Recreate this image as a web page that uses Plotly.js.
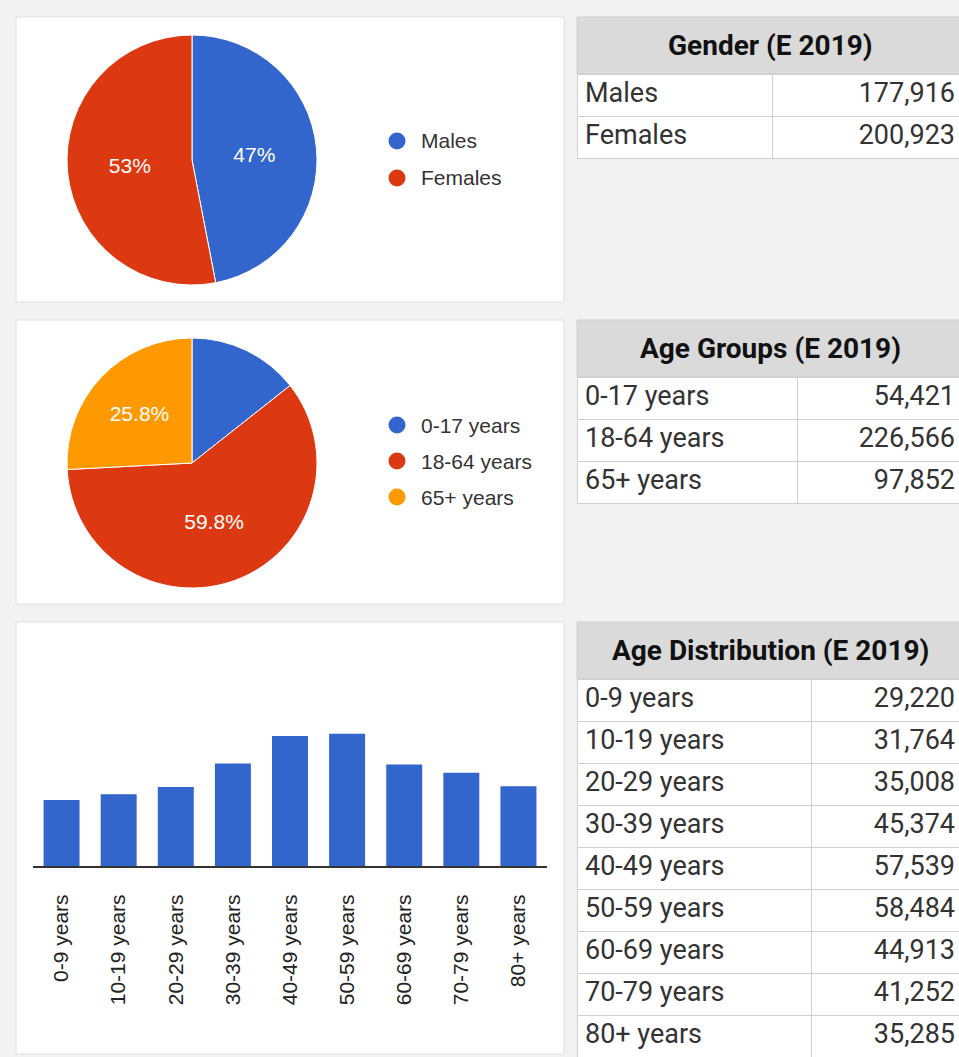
<!DOCTYPE html>
<html>
<head>
<meta charset="utf-8">
<script src="https://cdn.plot.ly/plotly-3.0.1.min.js"></script>
<style>
html, body { margin: 0; padding: 0; overflow: hidden; background: #f2f2f2; }
#chart { width: 966px; height: 1062px; }
</style>
</head>
<body>
<div id="chart"></div>
<script>
// ---- data ----
const genderLabels = ['Males', 'Females'];
const genderValues = [177916, 200923];
const ageGroupLabels = ['0-17 years', '18-64 years', '65+ years'];
const ageGroupValues = [54421, 226566, 97852];
const ageDistLabels = ['0-9 years', '10-19 years', '20-29 years', '30-39 years', '40-49 years',
                       '50-59 years', '60-69 years', '70-79 years', '80+ years'];
const ageDistValues = [29220, 31764, 35008, 45374, 57539, 58484, 44913, 41252, 35285];
const tableTitles = ['Gender (E 2019)', 'Age Groups (E 2019)', 'Age Distribution (E 2019)'];
const sliceColors = ['#3366cc', '#dc3912', '#ff9900'];

// ---- geometry helpers (pixels -> paper) ----
const W = 966, H = 1062;
const px = x => x / W;
const py = y => 1 - y / H;
const fmt = v => v.toLocaleString('en-US');

const chartFont = 'Arial, "Liberation Sans", sans-serif';
const tableFont = 'Roboto, "Noto Sans", sans-serif';

const traces = [];
const shapes = [];
const annotations = [];

// white panels
[[16, 17, 564, 302], [16, 320, 564, 604], [16, 622, 564, 1054]].forEach(b => {
  shapes.push({type: 'rect', xref: 'paper', yref: 'paper', layer: 'below',
    x0: px(b[0]), x1: px(b[2]), y0: py(b[3]), y1: py(b[1]),
    fillcolor: '#ffffff', line: {color: '#e0e0e0', width: 1}});
});

// pies
function addPie(labels, values, box, texttemplate) {
  traces.push({
    type: 'pie', labels: labels, values: values, sort: false, direction: 'clockwise',
    rotation: 0, showlegend: false,
    marker: {colors: sliceColors.slice(0, labels.length), line: {color: '#ffffff', width: 1}},
    texttemplate: texttemplate, textposition: 'inside', insidetextorientation: 'horizontal',
    textfont: {family: chartFont, size: 21, color: '#ffffff'},
    hoverinfo: 'label+value+percent',
    domain: {x: [px(box[0]), px(box[2])], y: [py(box[3]), py(box[1])]}
  });
}
function addLegend(labels, x, yStart, step) {
  labels.forEach((lab, i) => {
    const cy = yStart + i * step, cx = x, r = 8.5;
    shapes.push({type: 'circle', xref: 'paper', yref: 'paper',
      x0: px(cx - r), x1: px(cx + r), y0: py(cy + r), y1: py(cy - r),
      fillcolor: sliceColors[i], line: {width: 0}});
    annotations.push({xref: 'paper', yref: 'paper', x: px(cx + 22), y: py(cy),
      xanchor: 'left', yanchor: 'middle', showarrow: false, text: lab,
      font: {family: chartFont, size: 21, color: '#333333'}});
  });
}

addPie(genderLabels, genderValues, [67, 35, 317, 285], '%{percent:.0%}');
addLegend(genderLabels, 397, 141, 37);

const totalAge = ageGroupValues.reduce((a, b) => a + b, 0);
addPie(ageGroupLabels, ageGroupValues, [67, 338, 317, 588],
  ageGroupValues.map(v => (v / totalAge < 0.2 ? '' : '%{percent:.1%}')));
addLegend(ageGroupLabels, 397, 425, 36);

// bar chart
traces.push({
  type: 'bar', x: ageDistLabels, y: ageDistValues, xaxis: 'x', yaxis: 'y',
  marker: {color: '#3366cc'}, showlegend: false, hoverinfo: 'x+y'
});

// tables: grey title band + two-column data table
const EMPTY_HEAD = 16;  // height plotly keeps for a table with no header values
function addTable(title, labels, values, left, top, right, col1Right) {
  const headH = 57, rowH = 42;
  shapes.push({type: 'rect', xref: 'paper', yref: 'paper', layer: 'below',
    x0: px(left), x1: px(right), y0: py(top + headH), y1: py(top),
    fillcolor: '#dadada', line: {color: '#cfcfcf', width: 1}});
  annotations.push({xref: 'paper', yref: 'paper', x: px((left + right) / 2), y: py(top + headH / 2),
    xanchor: 'center', yanchor: 'middle', showarrow: false, text: '<b>' + title + '</b>',
    font: {family: tableFont, size: 28, color: '#111111'}});
  const t2 = top + headH - EMPTY_HEAD;
  traces.push({
    type: 'table',
    domain: {x: [px(left), px(right)],
             y: [Math.max(0, py(t2 + EMPTY_HEAD + labels.length * rowH + 3)), py(t2)]},
    columnwidth: [col1Right - left, right - col1Right],
    header: {values: [], fill: {color: 'rgba(0,0,0,0)'}, line: {width: 0, color: 'rgba(0,0,0,0)'}},
    cells: {values: [labels, values.map(fmt)], height: rowH, align: ['left', 'right'],
      fill: {color: '#ffffff'}, line: {color: '#cfcfcf', width: 1},
      font: {family: tableFont, size: 27, color: '#333333'}}
  });
}
addTable(tableTitles[0], genderLabels, genderValues, 577, 17, 963, 772);
addTable(tableTitles[1], ageGroupLabels, ageGroupValues, 577, 320, 963, 797);
addTable(tableTitles[2], ageDistLabels, ageDistValues, 577, 622, 963, 811);

const layout = {
  width: W, height: H, autosize: false,
  margin: {l: 0, r: 0, t: 0, b: 0, pad: 0},
  paper_bgcolor: '#f2f2f2', plot_bgcolor: 'rgba(0,0,0,0)',
  showlegend: false,
  bargap: 0.37,
  xaxis: {domain: [px(33), px(547)], anchor: 'y', type: 'category',
    tickangle: -90, ticks: '', ticklabelstandoff: 18,
    tickfont: {family: chartFont, size: 21, color: '#222222'},
    showline: true, linecolor: '#333333', linewidth: 2, showgrid: false, zeroline: false,
    fixedrange: true},
  yaxis: {domain: [py(866), py(640)], anchor: 'x', range: [0, 100000], visible: false,
    fixedrange: true},
  shapes: shapes,
  annotations: annotations
};

Plotly.newPlot('chart', traces, layout, {displayModeBar: false, staticPlot: true});
</script>
</body>
</html>
